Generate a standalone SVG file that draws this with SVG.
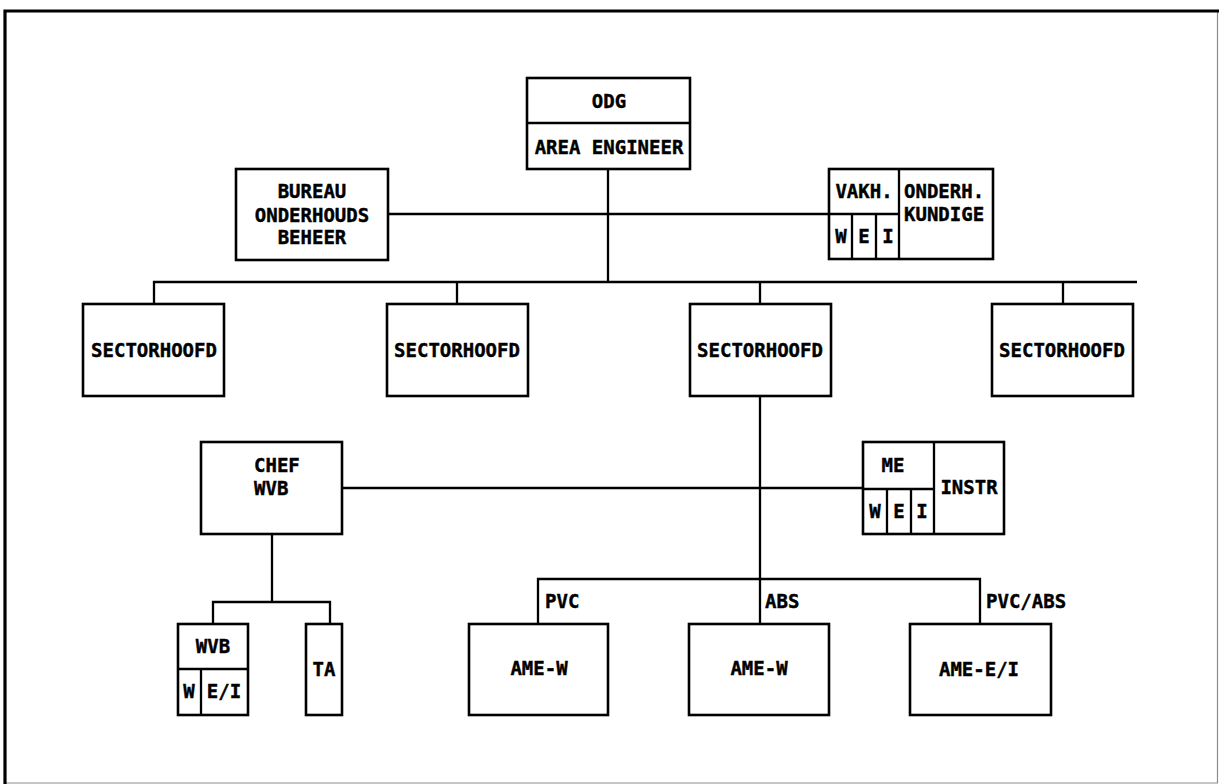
<svg xmlns="http://www.w3.org/2000/svg" width="1219" height="784" viewBox="0 0 1219 784">
<style>
.b{fill:#fff;stroke:#000;stroke-width:2.6}
.d{fill:none;stroke:#000;stroke-width:2.3}
.c{fill:none;stroke:#000;stroke-width:2.3}
text{font-family:"DejaVu Sans Mono","Liberation Mono",monospace;font-weight:bold;font-size:19px;fill:#000;stroke:#000;stroke-width:0.4}
.m{text-anchor:middle}
</style>
<rect width="1219" height="784" fill="#fff"/>
<path d="M5,784 V11 H1219" fill="none" stroke="#000" stroke-width="3.2"/>
<path d="M1217.5,11 V783 H5" fill="none" stroke="#000" stroke-width="1.2" opacity="0.45"/>
<g id="connectors">
<path class="c" d="M608,169 V282"/>
<path class="c" d="M388,214 H829"/>
<path class="c" d="M154,304 V282 H1137"/>
<path class="c" d="M457,282 V304"/>
<path class="c" d="M760,282 V304"/>
<path class="c" d="M1063,282 V304"/>
<path class="c" d="M760,396 V624"/>
<path class="c" d="M342,488 H863"/>
<path class="c" d="M538,624 V579 H980 V624"/>
<path class="c" d="M272,534 V602"/>
<path class="c" d="M213,624 V602 H330 V624"/>
</g>
<g id="odg">
<rect class="b" x="527" y="78" width="163" height="91"/>
<path class="d" d="M527,123 H690"/>
<text class="m" x="609" y="108">ODG</text>
<text class="m" x="609" y="154">AREA ENGINEER</text>
</g>
<g id="bureau">
<rect class="b" x="236" y="169" width="152" height="91"/>
<text class="m" x="312" y="198">BUREAU</text>
<text class="m" x="312" y="222">ONDERHOUDS</text>
<text class="m" x="312" y="244">BEHEER</text>
</g>
<g id="vakh">
<rect class="b" x="829" y="169" width="164" height="90"/>
<path class="d" d="M899,169 V259 M829,214 H899 M852,214 V259 M876,214 V259"/>
<text class="m" x="864" y="198">VAKH.</text>
<text x="904" y="198">ONDERH.</text>
<text x="904" y="221">KUNDIGE</text>
<text class="m" x="841" y="243">W</text>
<text class="m" x="864" y="243">E</text>
<text class="m" x="888" y="243">I</text>
</g>
<g id="sector1">
<rect class="b" x="83" y="304" width="141" height="92"/>
<text class="m" x="154" y="357">SECTORHOOFD</text>
</g>
<g id="sector2">
<rect class="b" x="387" y="304" width="141" height="92"/>
<text class="m" x="457" y="357">SECTORHOOFD</text>
</g>
<g id="sector3">
<rect class="b" x="690" y="304" width="141" height="92"/>
<text class="m" x="760" y="357">SECTORHOOFD</text>
</g>
<g id="sector4">
<rect class="b" x="992" y="304" width="141" height="92"/>
<text class="m" x="1062" y="357">SECTORHOOFD</text>
</g>
<g id="chefwvb">
<rect class="b" x="201" y="442" width="141" height="92"/>
<text x="254" y="472">CHEF</text>
<text x="254" y="495">WVB</text>
</g>
<g id="me">
<rect class="b" x="863" y="442" width="141" height="92"/>
<path class="d" d="M934,442 V534 M863,489 H934 M887,489 V534 M911,489 V534"/>
<text class="m" x="893" y="472">ME</text>
<text class="m" x="969" y="494">INSTR</text>
<text class="m" x="875" y="518">W</text>
<text class="m" x="899" y="518">E</text>
<text class="m" x="922" y="518">I</text>
</g>
<g id="wvb">
<rect class="b" x="178" y="624" width="70" height="91"/>
<path class="d" d="M178,669 H248 M201,669 V715"/>
<text class="m" x="213" y="653">WVB</text>
<text class="m" x="189" y="698">W</text>
<text class="m" x="224" y="698">E/I</text>
</g>
<g id="ta">
<rect class="b" x="306" y="624" width="36" height="91"/>
<text class="m" x="324" y="676">TA</text>
</g>
<g id="amew1">
<rect class="b" x="469" y="624" width="139" height="91"/>
<text class="m" x="539" y="675">AME-W</text>
</g>
<g id="amew2">
<rect class="b" x="689" y="624" width="140" height="91"/>
<text class="m" x="759" y="675">AME-W</text>
</g>
<g id="ameei">
<rect class="b" x="910" y="624" width="141" height="91"/>
<text class="m" x="979" y="676">AME-E/I</text>
</g>
<g id="labels">
<text x="545" y="608">PVC</text>
<text x="765" y="608">ABS</text>
<text x="986" y="608">PVC/ABS</text>
</g>
</svg>
